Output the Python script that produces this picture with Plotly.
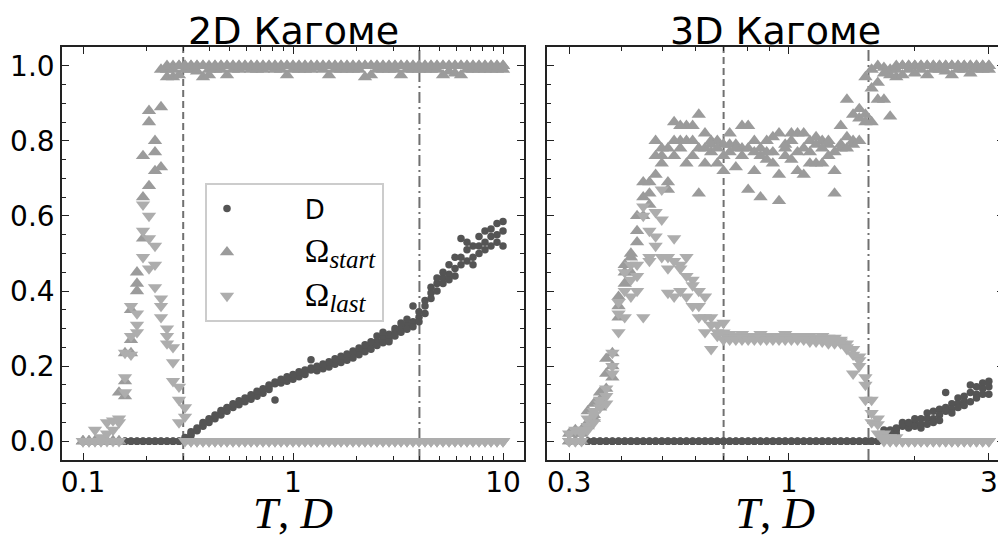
import plotly.graph_objects as go

# ---------------- 2D Kagome (left panel) ----------------
T2 = [0.1, 0.1068, 0.11406, 0.12182, 0.1301, 0.13895, 0.1484, 0.15849, 0.16927, 0.18078,
      0.19307, 0.2062, 0.22022, 0.2352, 0.25119, 0.26827, 0.28651, 0.306, 0.32681, 0.34903,
      0.37276, 0.39811, 0.42519, 0.4541, 0.48498, 0.51795, 0.55318, 0.59079, 0.63096, 0.67387,
      0.71969, 0.76863, 0.8209, 0.87672, 0.93633, 1.0, 1.068, 1.14062, 1.21819, 1.30103,
      1.3895, 1.48398, 1.58489, 1.69267, 1.80777, 1.9307, 2.06199, 2.2022, 2.35195, 2.51189,
      2.6827, 2.86512, 3.05995, 3.26803, 3.49025, 3.72759, 3.98107, 4.25179, 4.54091, 4.84969,
      5.17947, 5.53168, 5.90784, 6.30957, 6.73863, 7.19686, 7.68625, 8.20891, 8.76712, 9.36329,
      10.0]

D2_run1 = [0, 0, 0, 0, 0, 0, 0, 0, 0, 0,
           0, 0, 0, 0, 0, 0, 0, 0.005, 0.02, 0.03,
           0.045, 0.055, 0.065, 0.077, 0.088, 0.095, 0.102, 0.11, 0.118, 0.127,
           0.136, 0.145, 0.153, 0.16, 0.166, 0.172, 0.18, 0.186, 0.19, 0.195,
           0.199, 0.205, 0.212, 0.218, 0.224, 0.23, 0.237, 0.245, 0.253, 0.265,
           0.276, 0.285, 0.292, 0.302, 0.31, 0.318, 0.33, 0.36, 0.395, 0.42,
           0.435, 0.445, 0.46, 0.49, 0.51, 0.49, 0.52, 0.53, 0.545, 0.55,
           0.56]
D2_run2 = [0, 0, 0, 0, 0, 0, 0, 0, 0, 0,
           0, 0, 0, 0, 0, 0, 0, 0.01, 0.015, 0.035,
           0.04, 0.05, 0.06, 0.07, 0.08, 0.09, 0.097, 0.105, 0.112, 0.12,
           0.128, 0.138, 0.11, 0.155, 0.16, 0.165, 0.172, 0.178, 0.217, 0.188,
           0.193, 0.198, 0.205, 0.21, 0.216, 0.222, 0.23, 0.238, 0.245, 0.255,
           0.262, 0.272, 0.28, 0.29, 0.298, 0.36, 0.318, 0.34, 0.38, 0.4,
           0.42, 0.43, 0.44, 0.47, 0.48, 0.47, 0.5, 0.51, 0.52, 0.53,
           0.52]
D2_run3 = [0, 0, 0, 0, 0, 0, 0, 0, 0, 0,
           0, 0, 0, 0, 0, 0, 0, 0.0, 0.025, 0.028,
           0.05, 0.06, 0.07, 0.082, 0.09, 0.1, 0.108, 0.115, 0.124, 0.133,
           0.14, 0.15, 0.158, 0.165, 0.172, 0.178, 0.185, 0.19, 0.195, 0.2,
           0.206, 0.212, 0.22, 0.226, 0.232, 0.24, 0.248, 0.257, 0.265, 0.28,
           0.29, 0.265, 0.3, 0.315, 0.325, 0.305, 0.345, 0.375, 0.41, 0.435,
           0.45, 0.47, 0.49, 0.54, 0.53, 0.52, 0.545, 0.56, 0.565, 0.58,
           0.585]

OS2_run1 = [0, 0, 0, 0, 0, 0, 0, 0.16, 0.27, 0.42,
            0.65, 0.88, 0.8, 0.89, 0.99, 1.0, 1.0, 1.0, 1.0, 1.0,
            1.0, 1.0, 1.0, 1.0, 1.0, 1.0, 1.0, 1.0, 1.0, 1.0,
            1.0, 1.0, 1.0, 1.0, 1.0, 1.0, 1.0, 1.0, 1.0, 1.0,
            1.0, 1.0, 1.0, 1.0, 1.0, 1.0, 1.0, 1.0, 1.0, 1.0,
            1.0, 1.0, 1.0, 1.0, 1.0, 1.0, 1.0, 1.0, 1.0, 1.0,
            1.0, 1.0, 1.0, 1.0, 1.0, 1.0, 1.0, 1.0, 1.0, 1.0,
            1.0]
OS2_run2 = [0, 0, 0, 0, 0, 0, 0.13, 0.12, 0.35, 0.4,
            0.54, 0.85, 0.77, 0.73, 0.97, 0.97, 0.975, 0.99, 0.99, 0.985,
            0.97, 0.99, 0.99, 0.99, 0.975, 0.99, 0.99, 0.995, 0.99, 0.99,
            0.99, 0.995, 0.99, 0.99, 0.975, 0.99, 0.99, 0.99, 0.99, 0.995,
            0.99, 0.975, 0.99, 0.99, 0.99, 0.99, 0.99, 0.97, 0.975, 0.99,
            0.99, 0.99, 0.99, 0.975, 0.99, 0.99, 0.99, 0.99, 0.99, 0.99,
            0.975, 0.985, 0.98, 0.975, 0.99, 0.99, 0.99, 0.99, 0.99, 0.99,
            0.99]
OS2_run3 = [0, 0, 0, 0, 0, 0, 0, 0.235, 0.235, 0.45,
            0.76, 0.68, 0.72, 0.99, 1.0, 0.99, 1.0, 1.0, 1.0, 1.0,
            1.0, 0.975, 1.0, 1.0, 1.0, 1.0, 1.0, 1.0, 1.0, 1.0,
            1.0, 1.0, 1.0, 1.0, 1.0, 1.0, 1.0, 1.0, 1.0, 1.0,
            1.0, 1.0, 1.0, 1.0, 1.0, 1.0, 1.0, 1.0, 1.0, 1.0,
            1.0, 1.0, 1.0, 1.0, 1.0, 1.0, 1.0, 1.0, 1.0, 1.0,
            1.0, 1.0, 1.0, 1.0, 1.0, 1.0, 1.0, 1.0, 1.0, 1.0,
            1.0]

OL2_run1 = [0, 0, 0.03, 0, 0.05, 0.055, 0.05, 0.17, 0.36, 0.34,
            0.63, 0.6, 0.52, 0.38, 0.3, 0.25, 0.145, 0.09, 0, 0,
            0, 0, 0, 0, 0, 0, 0, 0, 0, 0,
            0, 0, 0, 0, 0, 0, 0, 0, 0, 0,
            0, 0, 0, 0, 0, 0, 0, 0, 0, 0,
            0, 0, 0, 0, 0, 0, 0, 0, 0, 0,
            0, 0, 0, 0, 0, 0, 0, 0, 0, 0,
            0]
OL2_run2 = [0, 0, 0, 0.01, 0, 0.03, 0.06, 0.13, 0.28, 0.31,
            0.56, 0.54, 0.47, 0.36, 0.26, 0.21, 0.11, 0.065, 0, 0,
            0, 0, 0, 0, 0, 0, 0, 0, 0, 0,
            0, 0, 0, 0, 0, 0, 0, 0, 0, 0,
            0, 0, 0, 0, 0, 0, 0, 0, 0, 0,
            0, 0, 0, 0, 0, 0, 0, 0, 0, 0,
            0, 0, 0, 0, 0, 0, 0, 0, 0, 0,
            0]
OL2_run3 = [0, 0, 0, 0, 0.02, 0, 0, 0.235, 0.23, 0.29,
            0.49, 0.46, 0.41, 0.33, 0.28, 0.16, 0.05, 0.0, 0, 0,
            0, 0, 0, 0, 0, 0, 0, 0, 0, 0,
            0, 0, 0, 0, 0, 0, 0, 0, 0, 0,
            0, 0, 0, 0, 0, 0, 0, 0, 0, 0,
            0, 0, 0, 0, 0, 0, 0, 0, 0, 0,
            0, 0, 0, 0, 0, 0, 0, 0, 0, 0,
            0]

# ---------------- 3D Kagome (right panel) ----------------
T3 = [0.3, 0.31033, 0.32102, 0.33208, 0.34352, 0.35535, 0.36759, 0.38025, 0.39335, 0.4069,
      0.42092, 0.43542, 0.45042, 0.46593, 0.48198, 0.49858, 0.51576, 0.53352, 0.55189, 0.5709,
      0.59057, 0.6109, 0.63194, 0.65371, 0.67622, 0.69952, 0.72361, 0.74853, 0.77431, 0.80098,
      0.82857, 0.85711, 0.88663, 0.91717, 0.94868, 0.98135, 1.01515, 1.05012, 1.08628, 1.1237,
      1.1624, 1.20249, 1.24391, 1.28675, 1.33107, 1.37692, 1.42434, 1.4734, 1.52415, 1.57665,
      1.63096, 1.68713, 1.74524, 1.80536, 1.86754, 1.93186, 1.9984, 2.06723, 2.13843, 2.21208,
      2.28827, 2.36709, 2.44862, 2.53296, 2.6202, 2.71044, 2.8038, 2.90036, 3.0]

D3_run1 = [0, 0, 0, 0, 0, 0, 0, 0, 0, 0,
           0, 0, 0, 0, 0, 0, 0, 0, 0, 0,
           0, 0, 0, 0, 0, 0, 0, 0, 0, 0,
           0, 0, 0, 0, 0, 0, 0, 0, 0, 0,
           0, 0, 0, 0, 0, 0, 0, 0, 0, 0,
           0, 0.03, 0.03, 0.03, 0.05, 0.045, 0.05, 0.06, 0.075, 0.08,
           0.085, 0.13, 0.1, 0.115, 0.12, 0.15, 0.145, 0.155, 0.16]
D3_run2 = [0, 0, 0, 0, 0, 0, 0, 0, 0, 0,
           0, 0, 0, 0, 0, 0, 0, 0, 0, 0,
           0, 0, 0, 0, 0, 0, 0, 0, 0, 0,
           0, 0, 0, 0, 0, 0, 0, 0, 0, 0,
           0, 0, 0, 0, 0, 0, 0, 0, 0, 0,
           0, 0.02, 0.025, 0.02, 0.04, 0.035, 0.04, 0.045, 0.06, 0.06,
           0.07, 0.09, 0.085, 0.1, 0.105, 0.13, 0.125, 0.14, 0.145]
D3_run3 = [0, 0, 0, 0, 0, 0, 0, 0, 0, 0,
           0, 0, 0, 0, 0, 0, 0, 0, 0, 0,
           0, 0, 0, 0, 0, 0, 0, 0, 0, 0,
           0, 0, 0, 0, 0, 0, 0, 0, 0, 0,
           0, 0, 0, 0, 0, 0, 0, 0, 0, 0,
           0, 0.01, 0.02, 0.035, 0.045, 0.05, 0.06, 0.035, 0.045, 0.05,
           0.055, 0.08, 0.075, 0.09, 0.095, 0.105, 0.115, 0.125, 0.125]

OS3_run1 = [0.0, 0.02, 0.0, 0.05, 0.07, 0.11, 0.18, 0.235, 0.385, 0.47,
            0.49, 0.53, 0.69, 0.69, 0.8, 0.76, 0.78, 0.85, 0.8, 0.84,
            0.84, 0.87, 0.82, 0.8, 0.8, 0.72, 0.82, 0.79, 0.84, 0.84,
            0.8, 0.78, 0.8, 0.81, 0.82, 0.79, 0.82, 0.82, 0.82, 0.8,
            0.81, 0.8, 0.79, 0.77, 0.84, 0.91, 0.87, 0.885, 0.97, 0.94,
            1.0, 0.995, 0.99, 0.99, 1.0, 1.0, 1.0, 1.0, 1.0, 1.0,
            1.0, 1.0, 1.0, 1.0, 1.0, 1.0, 1.0, 1.0, 1.0]
OS3_run2 = [0.02, 0.0, 0.03, 0.08, 0.1, 0.09, 0.14, 0.2, 0.36, 0.42,
            0.45, 0.6, 0.6, 0.66, 0.71, 0.74, 0.69, 0.8, 0.78, 0.8,
            0.8, 0.78, 0.74, 0.77, 0.74, 0.79, 0.77, 0.73, 0.78, 0.78,
            0.77, 0.76, 0.75, 0.77, 0.71, 0.76, 0.75, 0.77, 0.78, 0.74,
            0.79, 0.78, 0.76, 0.72, 0.79, 0.81, 0.79, 0.86, 0.87, 0.85,
            0.955, 0.91, 0.975, 0.97, 0.975, 0.99, 0.98, 0.99, 0.975, 0.99,
            0.99, 0.985, 0.975, 0.99, 0.99, 0.98, 0.99, 0.99, 0.99]
OS3_run3 = [0.0, 0.03, 0.02, 0.04, 0.06, 0.13, 0.22, 0.17, 0.33, 0.45,
            0.5, 0.56, 0.65, 0.63, 0.76, 0.78, 0.67, 0.76, 0.84, 0.74,
            0.76, 0.66, 0.78, 0.79, 0.78, 0.76, 0.79, 0.78, 0.76, 0.67,
            0.72, 0.65, 0.77, 0.74, 0.64, 0.78, 0.8, 0.72, 0.71, 0.77,
            0.74, 0.74, 0.8, 0.66, 0.78, 0.78, 0.8, 0.8, 0.85, 0.99,
            0.91, 0.98, 0.865, 1.0, 1.0, 1.0, 1.0, 1.0, 1.0, 1.0,
            1.0, 1.0, 1.0, 1.0, 1.0, 1.0, 1.0, 1.0, 1.0]

OL3_run1 = [0.02, 0.0, 0.03, 0.04, 0.07, 0.1, 0.12, 0.235, 0.37, 0.45,
            0.47, 0.47, 0.625, 0.49, 0.545, 0.67, 0.46, 0.54, 0.47, 0.49,
            0.43, 0.4, 0.385, 0.33, 0.31, 0.315, 0.285, 0.28, 0.285, 0.28,
            0.28, 0.285, 0.28, 0.28, 0.28, 0.285, 0.28, 0.28, 0.28, 0.28,
            0.275, 0.28, 0.275, 0.275, 0.27, 0.26, 0.245, 0.225, 0.17, 0.05,
            0.06, 0.02, 0.01, 0, 0, 0, 0, 0, 0, 0,
            0, 0, 0, 0, 0, 0, 0, 0, 0]
OL3_run2 = [0.0, 0.03, 0.0, 0.06, 0.05, 0.09, 0.1, 0.2, 0.34, 0.4,
            0.385, 0.44, 0.6, 0.48, 0.52, 0.59, 0.395, 0.48, 0.46, 0.44,
            0.415, 0.36, 0.33, 0.31, 0.29, 0.289, 0.275, 0.275, 0.27, 0.275,
            0.275, 0.27, 0.275, 0.275, 0.27, 0.275, 0.275, 0.27, 0.275, 0.27,
            0.27, 0.27, 0.265, 0.27, 0.265, 0.245, 0.18, 0.2, 0.15, 0.075,
            0.045, 0.01, 0.0, 0.01, 0, 0, 0, 0, 0, 0,
            0, 0, 0, 0, 0, 0, 0, 0, 0]
OL3_run3 = [0.0, 0.0, 0.02, 0.03, 0.08, 0.11, 0.14, 0.18, 0.29, 0.33,
            0.43, 0.4, 0.33, 0.56, 0.61, 0.49, 0.49, 0.385, 0.4, 0.385,
            0.36, 0.33, 0.29, 0.245, 0.28, 0.27, 0.27, 0.27, 0.275, 0.27,
            0.27, 0.275, 0.27, 0.27, 0.275, 0.27, 0.27, 0.275, 0.27, 0.265,
            0.265, 0.265, 0.26, 0.26, 0.26, 0.25, 0.23, 0.215, 0.11, 0.11,
            0.02, 0.0, 0.0, 0, 0, 0, 0, 0, 0, 0,
            0, 0, 0, 0, 0, 0, 0, 0, 0]

# vertical marker lines (T values)
VLINES2 = [0.3, 4.0]
VLINES3 = [0.7, 1.55]

# ---------------- styling ----------------
C_D = "#545454"
C_OS = "#9b9b9b"
C_OL = "#adadad"
OFF = 8                      # page body margin of the html page
W, H = 1006 - OFF, 540 - OFF


def px(v):
    return (v - OFF) / W


def py(v):
    return 1 - (v - OFF) / H


L1, R1 = px(62), px(524)
L2, R2 = px(547.3), px(1003.5)
B, TP = py(460), py(47)

fig = go.Figure()

NBSP = "\u00a0" * 7
OMEGA = "<span style='font-family:Liberation Serif;font-size:33px'>Ω</span>"


def sub(txt):
    return ("<sub><span style='font-family:Liberation Serif;font-size:25px'><i>"
            + txt + "</i></span></sub>")


def add_panel(T, d_runs, os_runs, ol_runs, xa, ya, show):
    xs = T * 3
    fig.add_trace(go.Scatter(
        x=xs, y=sum(d_runs, []), mode="markers", name=NBSP + "D", legendgroup="D",
        marker=dict(symbol="circle", size=7.5, color=C_D, line=dict(width=0)),
        xaxis=xa, yaxis=ya, showlegend=show))
    fig.add_trace(go.Scatter(
        x=xs, y=sum(os_runs, []), mode="markers",
        name=NBSP + OMEGA + sub("start"), legendgroup="OS",
        marker=dict(symbol="triangle-up", size=12.5, color=C_OS, line=dict(width=0)),
        xaxis=xa, yaxis=ya, showlegend=show))
    fig.add_trace(go.Scatter(
        x=xs, y=sum(ol_runs, []), mode="markers",
        name=NBSP + OMEGA + sub("last"), legendgroup="OL",
        marker=dict(symbol="triangle-down", size=12.5, color=C_OL, line=dict(width=0)),
        xaxis=xa, yaxis=ya, showlegend=show))


add_panel(T2, [D2_run1, D2_run2, D2_run3], [OS2_run1, OS2_run2, OS2_run3],
          [OL2_run1, OL2_run2, OL2_run3], "x", "y", True)
add_panel(T3, [D3_run1, D3_run2, D3_run3], [OS3_run1, OS3_run2, OS3_run3],
          [OL3_run1, OL3_run2, OL3_run3], "x2", "y2", False)

shapes = []
for xref, vals in [("x", VLINES2), ("x2", VLINES3)]:
    for xv, dash in zip(vals, ["7px,4px", "11px,4px,2px,4px"]):
        shapes.append(dict(type="line", xref=xref, yref=xref.replace("x", "y") + " domain",
                           x0=xv, x1=xv, y0=0, y1=1,
                           line=dict(color="#707070", width=2, dash=dash), layer="below"))

tick_font = dict(family="DejaVu Sans", size=28, color="black")
yticks = [0.0, 0.2, 0.4, 0.6, 0.8, 1.0]
yminor = [0.05, 0.1, 0.15, 0.25, 0.3, 0.35, 0.45, 0.5, 0.55, 0.65, 0.7, 0.75, 0.85, 0.9, 0.95]

common_axis = dict(showline=True, linecolor="#222222", linewidth=1.5, mirror="allticks",
                   ticks="inside", ticklen=7, tickwidth=1.3, tickcolor="#222222",
                   showgrid=False, zeroline=False, tickfont=tick_font)

yaxis_common = dict(common_axis, range=[-0.05, 1.05], domain=[B, TP], tickmode="array",
                    tickvals=yticks, ticktext=["0.0", "0.2", "0.4", "0.6", "0.8", "1.0"],
                    minor=dict(tickmode="array", tickvals=yminor, ticks="inside", ticklen=4,
                               tickwidth=1, tickcolor="#222222"))

fig.update_layout(
    width=W, height=H, margin=dict(l=0, r=0, t=0, b=0),
    paper_bgcolor="white", plot_bgcolor="white",
    shapes=shapes,
    xaxis=dict(common_axis, type="log", range=[-1.1, 1.1], domain=[L1, R1], anchor="y",
               tickmode="array", tickvals=[0.1, 1, 10], ticktext=["0.1", "1", "10"],
               ticklabelstandoff=-3,
               minor=dict(tickmode="array",
                          tickvals=[0.2, 0.3, 0.4, 0.5, 0.6, 0.7, 0.8, 0.9,
                                    2, 3, 4, 5, 6, 7, 8, 9],
                          ticks="inside", ticklen=4, tickwidth=1, tickcolor="#222222")),
    xaxis2=dict(common_axis, type="log", range=[-0.575, 0.512], domain=[L2, R2], anchor="y2",
                tickmode="array", tickvals=[0.3, 1, 3], ticktext=["0.3", "1", "3"],
                ticklabelstandoff=-3,
                minor=dict(tickmode="array",
                           tickvals=[0.4, 0.5, 0.6, 0.7, 0.8, 0.9, 2],
                           ticks="inside", ticklen=4, tickwidth=1, tickcolor="#222222")),
    yaxis=dict(yaxis_common, anchor="x"),
    yaxis2=dict(yaxis_common, anchor="x2", showticklabels=False),
    legend=dict(x=px(205), y=py(183), xanchor="left", yanchor="top",
                bgcolor="rgba(255,255,255,0.85)", bordercolor="#cccccc", borderwidth=2,
                font=dict(family="DejaVu Sans", size=26, color="black"),
                itemwidth=30, tracegroupgap=7),
    showlegend=True,
)

title_font = dict(family="DejaVu Sans", size=38, color="black")
label_font = dict(family="Liberation Serif", size=45, color="black")
for cx, txt in [((L1 + R1) / 2, "2D Кагоме"), ((L2 + R2) / 2, "3D Кагоме")]:
    fig.add_annotation(x=cx, y=1, xref="paper", yref="paper", text=txt,
                       showarrow=False, font=title_font, xanchor="center", yanchor="top",
                       yshift=0, borderpad=0)
    fig.add_annotation(x=cx, y=0, xref="paper", yref="paper",
                       text="<i>T</i>, <i>D</i>", showarrow=False, font=label_font,
                       xanchor="center", yanchor="bottom", yshift=1, borderpad=0)

fig.write_html("out.html")
